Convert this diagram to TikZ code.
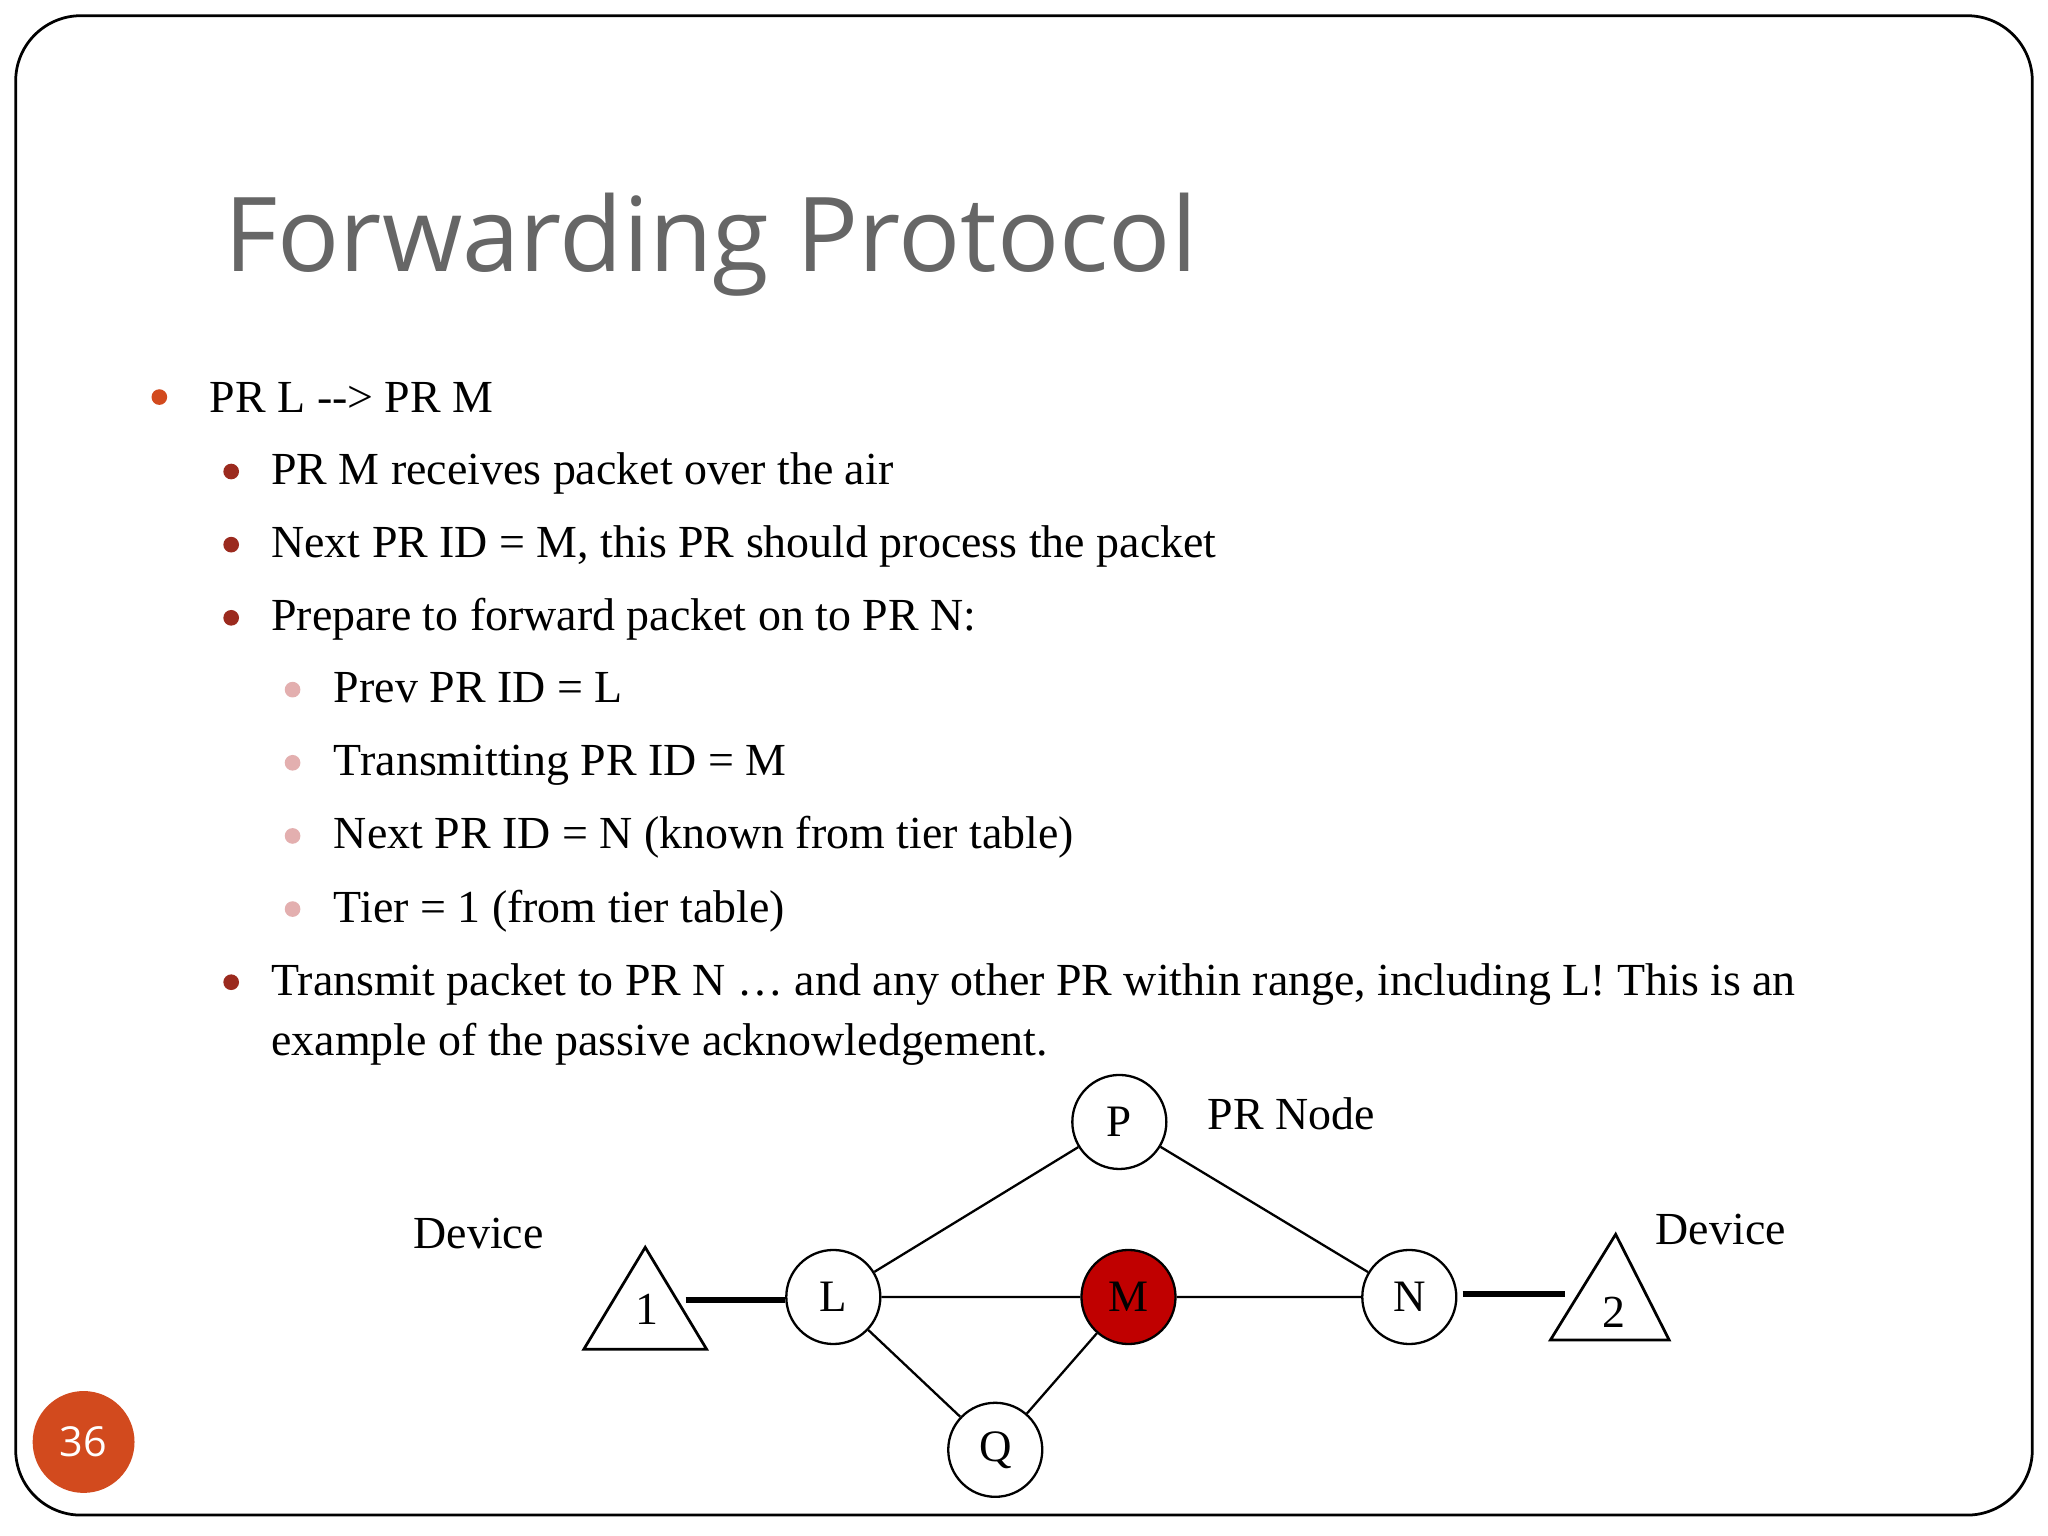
\documentclass[tikz,border=0pt]{standalone}
\usepackage{fontspec}
\setmainfont{Liberation Serif}
\newfontfamily\titlefont{Open Sans}
\usetikzlibrary{shapes.geometric}
\definecolor{ttl}{HTML}{666666}
\definecolor{orng}{HTML}{D24A1E}
\definecolor{dred}{HTML}{9B2A1E}
\definecolor{pink}{HTML}{E3AFAF}
\definecolor{mred}{HTML}{C00000}
\tikzset{
  txt/.style={anchor=base west,inner sep=0pt,font=\fontsize{10pt}{11pt}\selectfont},
  bul/.style={circle,inner sep=0pt,minimum size=1.2mm},
  pr/.style={circle,draw,line width=0.5pt,minimum size=7.2mm,inner sep=0pt,font=\fontsize{9.8pt}{11pt}\selectfont},
  link/.style={line width=0.5pt},
  thick link/.style={line width=1.3pt}
}
\begin{document}
\begin{tikzpicture}[x=0.1mm,y=-0.1mm]
\useasboundingbox (0,0) rectangle (1568,1176);
\draw[line width=0.6pt,rounded corners=5mm] (12,12) rectangle (1556,1160);
\node[anchor=base west,inner sep=0pt,text=ttl,font=\titlefont\fontsize{22.5pt}{26pt}\selectfont] (title) at (171,208) {Forwarding Protocol};
\node[bul,fill=orng] (b1) at (122,304) {};
\node[txt] (t1) at (160,316) {PR L {-}{-}> PR M};
\foreach \y/\t [count=\i] in {361/PR M receives packet over the air,417/{Next PR ID = M, this PR should process the packet},473/Prepare to forward packet on to PR N:}{
  \node[bul,fill=dred] (c\i) at (177,\y) {};
  \node[txt] (u\i) at (207,\y+10) {\t};
}
\foreach \y/\t [count=\i] in {528/Prev PR ID = L,584/Transmitting PR ID = M,640/Next PR ID = N (known from tier table),696/Tier = 1 (from tier table)}{
  \node[bul,fill=pink] (d\i) at (224,\y) {};
  \node[txt] (v\i) at (255,\y+10) {\t};
}
\node[bul,fill=dred] (c4) at (177,752) {};
\node[txt] (u4) at (207,762) {Transmit packet to PR N \dots\ and any other PR within range, including L! This is an};
\node[txt] (u5) at (207,808) {example of the passive acknowledgement.};
% diagram
\node[pr] (P) at (857,859) {P};
\node[pr] (L) at (638,993) {L};
\node[pr,fill=mred] (M) at (864,993) {M};
\node[pr] (N) at (1079,993) {N};
\node[pr] (Q) at (762,1110) {Q};
\draw[link] (L)--(P) (P)--(N) (L)--(M) (M)--(N) (L)--(Q) (Q)--(M);
\draw[line width=0.6pt] (494,955)--(447,1033)--(541,1033)--cycle;
\node[txt] (d1lbl) at (486,1014) {1};
\coordinate (t1r) at (525,995);
\draw[line width=0.6pt] (1237,945)--(1187,1026)--(1278,1026)--cycle;
\node[txt] (d2lbl) at (1226,1016) {2};
\coordinate (t2l) at (1198,991);
\draw[thick link] (t1r)--(t1r-|L.west);
\draw[thick link] (t2l-|N.east)++(4,0) coordinate (ne) (ne)--(t2l);
\node[txt] (prn) at (924,865) {PR Node};
\node[txt] (dev1) at (316,956) {Device};
\node[txt] (dev2) at (1267,953) {Device};
\node[circle,fill=orng,minimum size=7.8mm,inner sep=0pt,text=white,font=\titlefont\fontsize{9pt}{10pt}\selectfont] (pg) at (64,1104) {36};
\end{tikzpicture}
\end{document}
